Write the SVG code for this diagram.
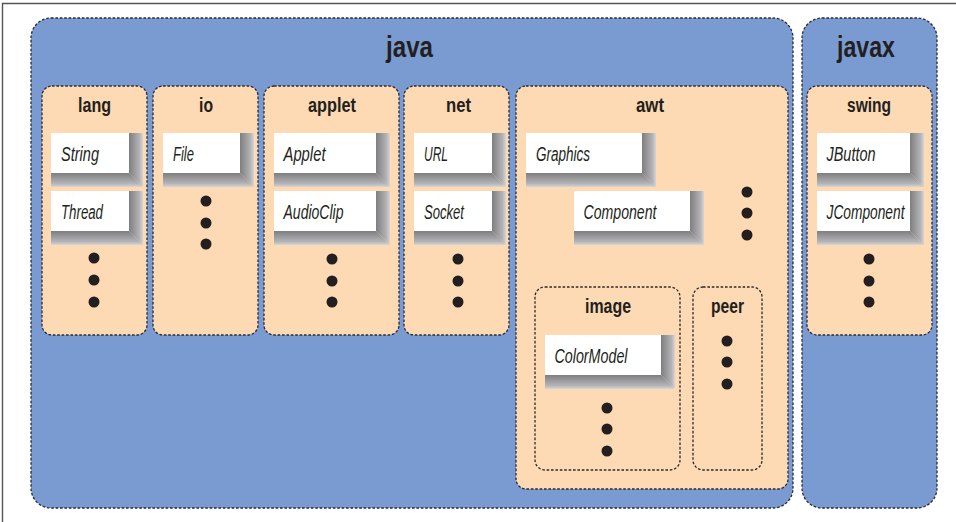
<svg xmlns="http://www.w3.org/2000/svg" width="956" height="522" viewBox="0 0 956 522">
<defs>
<linearGradient id="gR" x1="0" y1="0" x2="1" y2="0">
<stop offset="0" stop-color="#7e7e80"/><stop offset="0.75" stop-color="#b4b4b6"/><stop offset="1" stop-color="#d6d6d8"/>
</linearGradient>
<linearGradient id="gB" x1="0" y1="0" x2="0" y2="1">
<stop offset="0" stop-color="#7e7e80"/><stop offset="0.75" stop-color="#b4b4b6"/><stop offset="1" stop-color="#d6d6d8"/>
</linearGradient>
<style>
.outer{fill:#7a9bd1;stroke:#2a2a2e;stroke-width:1.3;stroke-dasharray:2.6 1.8}
.pkg{fill:#fddab3;stroke:#2a2a2e;stroke-width:1.3;stroke-dasharray:2.6 1.8}
.sub{fill:none;stroke:#2a2a2e;stroke-width:1.3;stroke-dasharray:2.6 1.8}
.title{font-family:"Liberation Sans",Arial,sans-serif;font-weight:bold;font-size:30px;fill:#231f20;text-anchor:middle}
.ptitle{font-family:"Liberation Sans",Arial,sans-serif;font-weight:bold;font-size:20px;fill:#231f20;text-anchor:middle}
.cls{font-family:"Liberation Sans",Arial,sans-serif;font-style:italic;font-size:20px;fill:#231f20}
.w{fill:#ffffff}
.sr{fill:url(#gR)}
.sb{fill:url(#gB)}
.dot{fill:#231f20}
.frame{fill:none;stroke:#555;stroke-width:1.4}
</style>
</defs>
<rect width="956" height="522" fill="#ffffff"/>
<path class="frame" d="M2.5,522 V3.5 H956"/>

<g id="java">
<rect class="outer" x="31" y="18" width="762" height="490" rx="20"/>
<text class="title" x="409.5" y="57" textLength="47" lengthAdjust="spacingAndGlyphs">java</text>
</g>
<g id="javax">
<rect class="outer" x="802" y="18" width="135" height="490" rx="20"/>
<text class="title" x="866" y="57" textLength="58" lengthAdjust="spacingAndGlyphs">javax</text>
</g>

<g id="lang">
<rect class="pkg" x="42" y="86" width="105" height="249" rx="10"/>
<text class="ptitle" x="94.5" y="112" textLength="33" lengthAdjust="spacingAndGlyphs">lang</text>
<circle class="dot" cx="94" cy="258" r="5.5"/><circle class="dot" cx="94" cy="280" r="5.5"/><circle class="dot" cx="94" cy="302" r="5.5"/>
</g>
<g id="io">
<rect class="pkg" x="153" y="86" width="105" height="249" rx="10"/>
<text class="ptitle" x="206" y="112" textLength="14" lengthAdjust="spacingAndGlyphs">io</text>
<circle class="dot" cx="206" cy="201" r="5.5"/><circle class="dot" cx="206" cy="223" r="5.5"/><circle class="dot" cx="206" cy="244" r="5.5"/>
</g>
<g id="applet">
<rect class="pkg" x="264" y="86" width="135" height="249" rx="10"/>
<text class="ptitle" x="332" y="112" textLength="48" lengthAdjust="spacingAndGlyphs">applet</text>
<circle class="dot" cx="332" cy="259" r="5.5"/><circle class="dot" cx="332" cy="281" r="5.5"/><circle class="dot" cx="332" cy="302" r="5.5"/>
</g>
<g id="net">
<rect class="pkg" x="404" y="86" width="105" height="249" rx="10"/>
<text class="ptitle" x="458.5" y="112" textLength="25" lengthAdjust="spacingAndGlyphs">net</text>
<circle class="dot" cx="458" cy="259" r="5.5"/><circle class="dot" cx="458" cy="281" r="5.5"/><circle class="dot" cx="458" cy="302" r="5.5"/>
</g>
<g id="awt">
<rect class="pkg" x="516" y="86" width="272" height="403" rx="10"/>
<text class="ptitle" x="650" y="112" textLength="28" lengthAdjust="spacingAndGlyphs">awt</text>
<circle class="dot" cx="747" cy="192" r="5.5"/><circle class="dot" cx="747" cy="213" r="5.5"/><circle class="dot" cx="747" cy="235" r="5.5"/>
</g>
<g id="image">
<rect class="sub" x="535" y="287" width="145" height="183" rx="10"/>
<text class="ptitle" x="608" y="313" textLength="46" lengthAdjust="spacingAndGlyphs">image</text>
<circle class="dot" cx="607" cy="408" r="5.5"/><circle class="dot" cx="607" cy="429" r="5.5"/><circle class="dot" cx="607" cy="451" r="5.5"/>
</g>
<g id="peer">
<rect class="sub" x="693" y="287" width="69" height="183" rx="10"/>
<text class="ptitle" x="727.5" y="313" textLength="33" lengthAdjust="spacingAndGlyphs">peer</text>
<circle class="dot" cx="727" cy="341" r="5.5"/><circle class="dot" cx="727" cy="362" r="5.5"/><circle class="dot" cx="727" cy="384" r="5.5"/>
</g>
<g id="swing">
<rect class="pkg" x="807" y="86" width="125" height="249" rx="10"/>
<text class="ptitle" x="869" y="112" textLength="44" lengthAdjust="spacingAndGlyphs">swing</text>
<circle class="dot" cx="869" cy="259" r="5.5"/><circle class="dot" cx="869" cy="281" r="5.5"/><circle class="dot" cx="869" cy="302" r="5.5"/>
</g>

<g id="String">
<polygon class="sr" points="129,133 143,133 143,187 129,173"/><polygon class="sb" points="51,173 129,173 143,187 51,187"/>
<rect class="w" x="51" y="133" width="78" height="40"/>
<text class="cls" x="61" y="160.5" textLength="38" lengthAdjust="spacingAndGlyphs">String</text>
</g>
<g id="Thread">
<polygon class="sr" points="129,191 143,191 143,245 129,231"/><polygon class="sb" points="51,231 129,231 143,245 51,245"/>
<rect class="w" x="51" y="191" width="78" height="40"/>
<text class="cls" x="61" y="218.5" textLength="42" lengthAdjust="spacingAndGlyphs">Thread</text>
</g>
<g id="File">
<polygon class="sr" points="240,133 254,133 254,187 240,173"/><polygon class="sb" points="163,173 240,173 254,187 163,187"/>
<rect class="w" x="163" y="133" width="77" height="40"/>
<text class="cls" x="173" y="160.5" textLength="21" lengthAdjust="spacingAndGlyphs">File</text>
</g>
<g id="Applet">
<polygon class="sr" points="376,133 390,133 390,187 376,173"/><polygon class="sb" points="274,173 376,173 390,187 274,187"/>
<rect class="w" x="274" y="133" width="102" height="40"/>
<text class="cls" x="283.5" y="160.5" textLength="42" lengthAdjust="spacingAndGlyphs">Applet</text>
</g>
<g id="AudioClip">
<polygon class="sr" points="376,191 390,191 390,245 376,231"/><polygon class="sb" points="274,231 376,231 390,245 274,245"/>
<rect class="w" x="274" y="191" width="102" height="40"/>
<text class="cls" x="283.5" y="218.5" textLength="60" lengthAdjust="spacingAndGlyphs">AudioClip</text>
</g>
<g id="URL">
<polygon class="sr" points="492,133 506,133 506,187 492,173"/><polygon class="sb" points="414,173 492,173 506,187 414,187"/>
<rect class="w" x="414" y="133" width="78" height="40"/>
<text class="cls" x="424" y="160.5" textLength="24" lengthAdjust="spacingAndGlyphs">URL</text>
</g>
<g id="Socket">
<polygon class="sr" points="492,191 506,191 506,245 492,231"/><polygon class="sb" points="414,231 492,231 506,245 414,245"/>
<rect class="w" x="414" y="191" width="78" height="40"/>
<text class="cls" x="424" y="218.5" textLength="40" lengthAdjust="spacingAndGlyphs">Socket</text>
</g>
<g id="Graphics">
<polygon class="sr" points="642,133 656,133 656,187 642,173"/><polygon class="sb" points="526,173 642,173 656,187 526,187"/>
<rect class="w" x="526" y="133" width="116" height="40"/>
<text class="cls" x="536" y="160.5" textLength="54" lengthAdjust="spacingAndGlyphs">Graphics</text>
</g>
<g id="Component">
<polygon class="sr" points="690,191 704,191 704,245 690,231"/><polygon class="sb" points="574,231 690,231 704,245 574,245"/>
<rect class="w" x="574" y="191" width="116" height="40"/>
<text class="cls" x="583.5" y="218.5" textLength="73" lengthAdjust="spacingAndGlyphs">Component</text>
</g>
<g id="ColorModel">
<polygon class="sr" points="661,335 675,335 675,389 661,375"/><polygon class="sb" points="545,375 661,375 675,389 545,389"/>
<rect class="w" x="545" y="335" width="116" height="40"/>
<text class="cls" x="554.5" y="362.5" textLength="73" lengthAdjust="spacingAndGlyphs">ColorModel</text>
</g>
<g id="JButton">
<polygon class="sr" points="910,133 924,133 924,187 910,173"/><polygon class="sb" points="817,173 910,173 924,187 817,187"/>
<rect class="w" x="817" y="133" width="93" height="40"/>
<text class="cls" x="826.5" y="160.5" textLength="49" lengthAdjust="spacingAndGlyphs">JButton</text>
</g>
<g id="JComponent">
<polygon class="sr" points="910,191 924,191 924,245 910,231"/><polygon class="sb" points="817,231 910,231 924,245 817,245"/>
<rect class="w" x="817" y="191" width="93" height="40"/>
<text class="cls" x="826.5" y="218.5" textLength="78" lengthAdjust="spacingAndGlyphs">JComponent</text>
</g>

<g id="connectors"/>
</svg>
